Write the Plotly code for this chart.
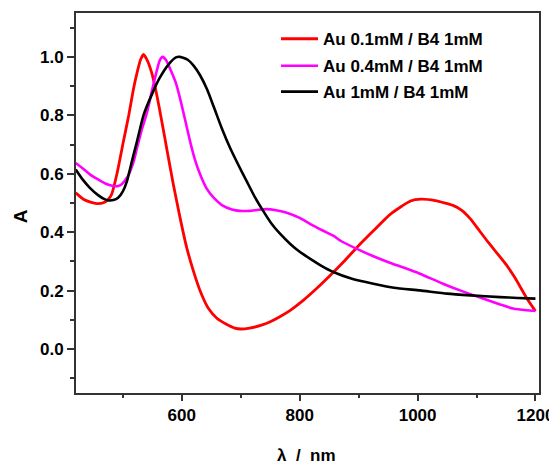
import plotly.graph_objects as go

# ---- data ----
lam_red = [420, 433, 445, 456, 467, 475, 481, 490, 501, 510, 518, 524, 530, 535, 541, 549,
           558, 566, 575, 585, 597, 608, 620, 631, 645, 660, 675, 690, 700, 715, 735, 750,
           767, 784, 806, 830, 852, 875, 897, 925, 954, 988, 1006, 1030, 1060, 1075, 1090,
           1105, 1120, 1135, 1150, 1165, 1185, 1200]
abs_red = [0.535, 0.513, 0.503, 0.498, 0.501, 0.512, 0.53, 0.60, 0.711, 0.80, 0.89, 0.945,
           0.99, 1.008, 0.99, 0.945, 0.865, 0.78, 0.68, 0.57, 0.45, 0.35, 0.265, 0.20, 0.14,
           0.105, 0.086, 0.072, 0.069, 0.072, 0.082, 0.094, 0.112, 0.133, 0.167, 0.21, 0.253,
           0.30, 0.348, 0.405, 0.462, 0.507, 0.513, 0.508, 0.492, 0.475, 0.445, 0.405, 0.365,
           0.328, 0.29, 0.245, 0.175, 0.13]

lam_mag = [420, 432, 444, 460, 472, 484, 492, 498, 508, 518, 524, 532, 541, 550, 557, 562,
           567, 573, 580, 590, 597, 605, 614, 622, 631, 642, 654, 668, 685, 699, 715, 730,
           744, 760, 778, 800, 818, 840, 857, 870, 897, 925, 954, 975, 1004, 1043, 1080,
           1111, 1140, 1162, 1185, 1200]
abs_mag = [0.637, 0.618, 0.598, 0.578, 0.565, 0.558, 0.558, 0.564, 0.59, 0.64, 0.688, 0.75,
           0.81, 0.89, 0.948, 0.985, 1.0, 0.99, 0.96, 0.91, 0.858, 0.79, 0.711, 0.65, 0.598,
           0.55, 0.518, 0.493, 0.478, 0.473, 0.473, 0.477, 0.479, 0.475, 0.467, 0.449, 0.428,
           0.405, 0.388, 0.37, 0.343, 0.318, 0.295, 0.28, 0.258, 0.224, 0.195, 0.173, 0.153,
           0.139, 0.133, 0.131]

lam_blk = [420, 432, 444, 458, 468, 475, 484, 492, 500, 507, 515, 524, 535, 550, 562, 578,
           590, 597, 610, 620, 631, 643, 654, 668, 682, 696, 710, 724, 738, 752, 767, 784,
           800, 818, 837, 857, 890, 925, 960, 1004, 1050, 1090, 1140, 1170, 1200]
abs_blk = [0.615, 0.58, 0.552, 0.527, 0.514, 0.509, 0.51, 0.518, 0.54, 0.575, 0.64, 0.711,
           0.80, 0.875, 0.926, 0.975, 0.998, 1.0, 0.99, 0.97, 0.937, 0.888, 0.83, 0.755,
           0.688, 0.63, 0.575, 0.52, 0.473, 0.43, 0.394, 0.36, 0.333, 0.309, 0.285, 0.264,
           0.24, 0.224, 0.21, 0.201, 0.19, 0.184, 0.178, 0.175, 0.173]

series_names = ["Au 0.1mM / B4 1mM", "Au 0.4mM / B4 1mM", "Au 1mM / B4 1mM"]
x_title = "λ\u00a0 /\u00a0 nm"
y_title = "A"

FONT = "Liberation Sans, Arial, sans-serif"
AXC = "#333333"

fig = go.Figure()
specs = [(lam_red, abs_red, "#ff0000", "legend", 2.8),
         (lam_mag, abs_mag, "#ff00ff", "legend2", 2.6),
         (lam_blk, abs_blk, "#000000", "legend3", 2.6)]
for (xs, ys, col, lg, w), nm in zip(specs, series_names):
    fig.add_trace(go.Scatter(x=xs, y=ys, mode="lines", name=nm,
                             line=dict(color=col, width=w, shape="spline", smoothing=0.5),
                             legend=lg))

xr = [420.5, 1206]
yr = [-0.15, 1.15]
tickfont = dict(family=FONT, size=17, color="black", weight="bold")

legfont = dict(family=FONT, size=17, color="black", weight="bold")
leg_common = dict(x=0.432, xanchor="left", yanchor="middle", bgcolor="rgba(0,0,0,0)",
                  font=legfont, itemwidth=37)

# the page body has an 8px margin, so the figure is sized/offset to fit the window
fig.update_layout(
    width=549, height=459,
    margin=dict(l=68, r=18, t=3, b=74),
    paper_bgcolor="white", plot_bgcolor="white",
    showlegend=True,
    legend=dict(y=0.931, **leg_common),
    legend2=dict(y=0.860, **leg_common),
    legend3=dict(y=0.792, **leg_common),
    xaxis=dict(range=xr, tick0=0, dtick=200, ticks="outside", ticklen=6, tickwidth=2,
               tickcolor=AXC, showline=True, linecolor=AXC, linewidth=2, mirror=True,
               showgrid=False, zeroline=False, tickfont=tickfont,
               minor=dict(dtick=100, ticks="outside", ticklen=3, tickwidth=2, tickcolor=AXC)),
    yaxis=dict(range=yr, tick0=0, dtick=0.2, tickformat=".1f", ticks="outside", ticklen=7,
               tickwidth=2, tickcolor=AXC, showline=True, linecolor=AXC, linewidth=2,
               mirror=True, showgrid=False, zeroline=False, tickfont=tickfont,
               minor=dict(dtick=0.1, ticks="outside", ticklen=4, tickwidth=2, tickcolor=AXC)),
    xaxis2=dict(range=xr, overlaying="x", side="top", anchor="y", tick0=0, dtick=100,
                ticks="inside", ticklen=3, tickwidth=1.5, tickcolor=AXC,
                showticklabels=False, showgrid=False, zeroline=False, showline=False),
    yaxis2=dict(range=yr, overlaying="y", side="right", anchor="x", tick0=0, dtick=0.1,
                ticks="inside", ticklen=3, tickwidth=1.5, tickcolor=AXC,
                showticklabels=False, showgrid=False, zeroline=False, showline=False),
    annotations=[
        dict(text=x_title, xref="paper", yref="paper", x=0.497, y=-0.164,
             xanchor="center", yanchor="middle", showarrow=False,
             font=dict(family=FONT, size=17, color="black", weight="bold")),
        dict(text=y_title, xref="paper", yref="paper", x=-0.1195, y=0.464,
             xanchor="center", yanchor="middle", showarrow=False, textangle=-90,
             font=dict(family=FONT, size=19, color="black", weight="bold")),
    ],
)

fig.write_html("out.html")
